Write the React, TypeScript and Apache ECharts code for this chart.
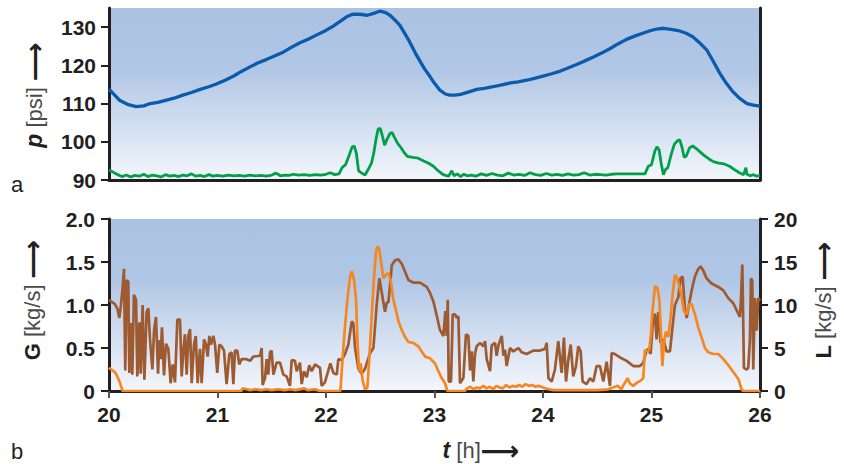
import React, { useEffect, useRef } from "react";
import * as echarts from "echarts";

// ---------- data ----------
const pTime = [20.0, 20.05, 20.1, 20.17, 20.25, 20.32, 20.38, 20.45, 20.53, 20.6, 20.68, 20.76, 20.84, 20.92, 20.99, 21.07, 21.15, 21.22, 21.3, 21.37, 21.45, 21.53, 21.61, 21.68, 21.76, 21.84, 21.91, 21.99, 22.07, 22.13, 22.19, 22.24, 22.28, 22.33, 22.38, 22.44, 22.5, 22.55, 22.59, 22.63, 22.68, 22.72, 22.77, 22.82, 22.87, 22.91, 22.96, 23.0, 23.05, 23.1, 23.14, 23.19, 23.24, 23.31, 23.39, 23.46, 23.54, 23.62, 23.7, 23.77, 23.85, 23.92, 24.0, 24.08, 24.16, 24.23, 24.31, 24.38, 24.46, 24.54, 24.62, 24.69, 24.77, 24.85, 24.92, 24.98, 25.05, 25.11, 25.18, 25.26, 25.32, 25.38, 25.44, 25.51, 25.57, 25.63, 25.69, 25.75, 25.81, 25.88, 25.94, 26.0];
const pValues = [113.8, 112.3, 110.8, 109.8, 109.2, 109.4, 110.0, 110.3, 110.9, 111.4, 112.2, 112.9, 113.7, 114.4, 115.1, 116.1, 117.2, 118.4, 119.6, 120.6, 121.5, 122.5, 123.5, 124.7, 125.9, 126.9, 127.9, 129.0, 130.3, 131.5, 132.7, 133.3, 133.4, 133.3, 133.1, 133.6, 134.2, 133.8, 133.1, 132.0, 130.5, 128.6, 126.2, 123.4, 120.9, 119.0, 117.0, 115.3, 113.5, 112.5, 112.2, 112.2, 112.4, 113.0, 113.7, 114.0, 114.4, 114.9, 115.4, 115.7, 116.1, 116.6, 117.2, 117.8, 118.5, 119.3, 120.2, 121.1, 122.1, 123.2, 124.4, 125.6, 126.8, 127.7, 128.4, 129.0, 129.5, 129.7, 129.4, 129.0, 128.4, 127.5, 126.0, 124.0, 121.0, 117.9, 115.3, 113.1, 111.4, 110.0, 109.6, 109.3];

const greenTime = [20.0, 20.04, 20.08, 20.12, 20.16, 20.2, 20.24, 20.28, 20.32, 20.36, 20.4, 20.44, 20.48, 20.52, 20.56, 20.6, 20.64, 20.68, 20.72, 20.76, 20.8, 20.84, 20.88, 20.92, 20.96, 21.0, 21.05, 21.1, 21.15, 21.2, 21.25, 21.3, 21.35, 21.4, 21.45, 21.5, 21.54, 21.58, 21.62, 21.66, 21.7, 21.75, 21.8, 21.85, 21.9, 21.95, 22.0, 22.04, 22.08, 22.12, 22.15, 22.18, 22.21, 22.24, 22.26, 22.28, 22.3, 22.33, 22.36, 22.39, 22.42, 22.44, 22.46, 22.48, 22.5, 22.52, 22.54, 22.56, 22.59, 22.61, 22.63, 22.66, 22.69, 22.72, 22.75, 22.8, 22.85, 22.9, 22.95, 22.99, 23.03, 23.07, 23.1, 23.13, 23.16, 23.18, 23.21, 23.24, 23.27, 23.3, 23.34, 23.38, 23.43, 23.48, 23.53, 23.58, 23.63, 23.68, 23.73, 23.78, 23.83, 23.88, 23.93, 23.98, 24.03, 24.08, 24.13, 24.18, 24.23, 24.28, 24.33, 24.38, 24.43, 24.48, 24.53, 24.58, 24.63, 24.68, 24.73, 24.78, 24.83, 24.88, 24.94, 24.97, 25.0, 25.03, 25.05, 25.07, 25.09, 25.11, 25.13, 25.15, 25.18, 25.21, 25.24, 25.26, 25.28, 25.3, 25.32, 25.35, 25.38, 25.41, 25.45, 25.49, 25.53, 25.57, 25.62, 25.67, 25.72, 25.77, 25.81, 25.85, 25.87, 25.88, 25.91, 25.94, 25.97, 26.0];
const greenValues = [92.6, 92.0, 91.4, 90.9, 91.3, 90.8, 91.2, 91.0, 91.5, 90.9, 91.3, 91.1, 90.8, 91.4, 91.0, 91.2, 90.9, 91.3, 91.1, 91.6, 91.0, 91.2, 90.9, 91.4, 91.0, 91.2, 91.0, 91.3, 91.1, 91.2, 91.0, 91.3, 91.1, 91.2, 91.0, 91.3, 91.8, 91.1, 91.3, 91.2, 91.5, 91.3, 91.4, 91.2, 91.4, 91.3, 91.5, 91.9, 91.4, 91.6, 93.3, 94.0, 96.2, 98.6, 98.9, 97.0, 92.4, 91.8, 91.3, 92.8, 94.5, 97.0, 100.5, 103.3, 103.5, 101.5, 99.1, 100.5, 102.2, 102.4, 101.2, 99.6, 98.5, 97.2, 96.2, 95.9, 95.7, 95.0, 94.3, 93.6, 92.5, 91.6, 91.2, 91.0, 92.4, 91.1, 91.6, 90.9, 91.5, 91.1, 91.3, 91.0, 91.6, 91.2, 91.7, 91.3, 91.1, 91.8, 91.3, 91.5, 91.2, 91.9, 91.4, 91.2, 91.7, 91.3, 91.5, 91.2, 91.6, 91.3, 91.4, 91.9, 91.3, 91.5, 91.4, 91.3, 91.5, 91.6, 91.6, 91.6, 91.6, 91.6, 91.6, 93.6, 94.0, 97.5, 98.7, 97.9, 94.2, 91.4, 92.8, 93.2, 96.5, 99.3, 100.3, 100.5, 98.7, 96.0, 96.2, 98.4, 98.9, 98.3, 97.3, 96.3, 95.5, 94.8, 94.4, 94.2, 93.6, 92.6, 91.9, 91.4, 93.2, 91.5, 91.1, 91.4, 91.0, 91.2];

const gTime = [20.0, 20.01, 20.055, 20.08, 20.095, 20.11, 20.126, 20.138, 20.15, 20.163, 20.178, 20.187, 20.2, 20.215, 20.23, 20.249, 20.261, 20.28, 20.292, 20.31, 20.326, 20.347, 20.363, 20.378, 20.4, 20.415, 20.433, 20.452, 20.464, 20.476, 20.488, 20.507, 20.525, 20.547, 20.568, 20.587, 20.608, 20.63, 20.654, 20.67, 20.685, 20.7, 20.716, 20.731, 20.747, 20.762, 20.783, 20.8, 20.817, 20.839, 20.854, 20.876, 20.894, 20.909, 20.925, 20.94, 20.962, 20.977, 20.998, 21.017, 21.038, 21.06, 21.084, 21.109, 21.13, 21.146, 21.161, 21.183, 21.2, 21.223, 21.269, 21.3, 21.33, 21.392, 21.407, 21.416, 21.438, 21.453, 21.468, 21.484, 21.499, 21.515, 21.545, 21.576, 21.607, 21.637, 21.668, 21.684, 21.714, 21.73, 21.76, 21.776, 21.797, 21.822, 21.846, 21.868, 21.899, 21.945, 21.96, 21.99, 22.04, 22.068, 22.099, 22.114, 22.145, 22.175, 22.206, 22.237, 22.252, 22.268, 22.298, 22.329, 22.36, 22.406, 22.437, 22.467, 22.492, 22.529, 22.544, 22.56, 22.575, 22.59, 22.606, 22.636, 22.667, 22.698, 22.728, 22.759, 22.805, 22.867, 22.928, 22.959, 22.99, 23.02, 23.05, 23.082, 23.1, 23.113, 23.122, 23.131, 23.152, 23.168, 23.19, 23.205, 23.22, 23.235, 23.266, 23.29, 23.312, 23.328, 23.343, 23.358, 23.374, 23.389, 23.42, 23.45, 23.466, 23.481, 23.512, 23.527, 23.558, 23.573, 23.589, 23.62, 23.635, 23.65, 23.665, 23.696, 23.727, 23.773, 23.804, 23.85, 23.91, 23.973, 24.019, 24.034, 24.05, 24.08, 24.11, 24.141, 24.172, 24.193, 24.212, 24.233, 24.255, 24.279, 24.304, 24.325, 24.347, 24.365, 24.402, 24.433, 24.464, 24.494, 24.525, 24.556, 24.586, 24.617, 24.633, 24.663, 24.71, 24.771, 24.832, 24.894, 24.924, 24.949, 24.97, 24.992, 25.01, 25.032, 25.047, 25.063, 25.084, 25.109, 25.124, 25.139, 25.17, 25.195, 25.216, 25.247, 25.268, 25.287, 25.308, 25.324, 25.339, 25.37, 25.4, 25.431, 25.453, 25.477, 25.508, 25.554, 25.616, 25.662, 25.708, 25.754, 25.8, 25.815, 25.825, 25.837, 25.852, 25.877, 25.892, 25.907, 25.917, 25.929, 25.938, 25.953, 25.969, 25.984, 26.0];
const gValues = [1.06, 1.05, 1.01, 0.95, 0.85, 1.0, 1.21, 1.42, 0.24, 1.29, 1.27, 0.21, 0.79, 0.19, 1.12, 1.06, 0.17, 0.8, 0.2, 1.0, 0.13, 0.92, 0.96, 0.6, 0.25, 0.7, 0.86, 0.2, 0.59, 0.37, 0.74, 0.18, 0.55, 0.49, 0.09, 0.31, 0.1, 0.83, 0.83, 0.17, 0.47, 0.66, 0.19, 0.64, 0.72, 0.09, 0.54, 0.64, 0.09, 0.49, 0.09, 0.6, 0.54, 0.4, 0.64, 0.54, 0.64, 0.54, 0.21, 0.54, 0.52, 0.47, 0.08, 0.43, 0.45, 0.08, 0.47, 0.47, 0.31, 0.37, 0.37, 0.35, 0.4, 0.41, 0.5, 0.07, 0.15, 0.37, 0.19, 0.45, 0.47, 0.19, 0.33, 0.33, 0.19, 0.17, 0.06, 0.36, 0.35, 0.23, 0.33, 0.08, 0.23, 0.16, 0.3, 0.23, 0.31, 0.27, 0.06, 0.1, 0.32, 0.21, 0.19, 0.37, 0.36, 0.43, 0.54, 0.81, 0.79, 0.5, 0.26, 0.2, 0.26, 0.44, 0.5, 1.0, 1.31, 1.03, 0.92, 1.03, 1.03, 1.22, 1.46, 1.52, 1.53, 1.48, 1.39, 1.29, 1.26, 1.26, 1.21, 1.14, 1.04, 0.88, 0.71, 0.64, 0.93, 0.64, 1.06, 0.11, 0.11, 0.89, 0.89, 0.85, 0.87, 0.09, 0.15, 0.66, 0.64, 0.24, 0.46, 0.11, 0.44, 0.52, 0.56, 0.52, 0.58, 0.37, 0.23, 0.53, 0.56, 0.41, 0.53, 0.64, 0.41, 0.48, 0.29, 0.5, 0.46, 0.5, 0.45, 0.43, 0.47, 0.47, 0.49, 0.56, 0.15, 0.11, 0.25, 0.58, 0.21, 0.62, 0.11, 0.36, 0.54, 0.17, 0.29, 0.52, 0.46, 0.11, 0.08, 0.15, 0.11, 0.29, 0.29, 0.11, 0.34, 0.06, 0.44, 0.43, 0.39, 0.35, 0.29, 0.29, 0.33, 0.45, 0.49, 0.43, 0.76, 0.9, 0.6, 0.92, 0.56, 0.6, 0.53, 0.46, 0.46, 0.76, 1.0, 1.09, 1.31, 1.33, 0.96, 0.85, 0.96, 1.17, 1.33, 1.42, 1.45, 1.4, 1.31, 1.25, 1.21, 1.17, 1.08, 1.02, 0.9, 0.86, 1.08, 1.47, 0.27, 0.25, 0.27, 0.6, 1.31, 1.28, 0.25, 1.08, 0.7, 1.08, 1.05];

const lTime = [20.0, 20.01, 20.055, 20.08, 20.1, 20.11, 20.126, 21.22, 21.23, 21.27, 21.3, 21.35, 21.4, 21.45, 21.5, 21.56, 21.62, 21.67, 21.72, 21.8, 21.83, 21.9, 21.94, 22.13, 22.135, 22.154, 22.175, 22.197, 22.222, 22.237, 22.259, 22.277, 22.29, 22.305, 22.32, 22.338, 22.36, 22.381, 22.4, 22.421, 22.443, 22.461, 22.476, 22.492, 22.513, 22.529, 22.55, 22.575, 22.596, 22.621, 22.645, 22.667, 22.698, 22.728, 22.759, 22.805, 22.851, 22.882, 22.913, 22.959, 23.005, 23.036, 23.066, 23.097, 23.119, 23.28, 23.3, 23.33, 23.36, 23.39, 23.42, 23.45, 23.48, 23.51, 23.54, 23.57, 23.6, 23.63, 23.66, 23.69, 23.72, 23.75, 23.78, 23.81, 23.84, 23.87, 23.9, 23.93, 23.96, 24.0, 24.05, 24.1, 24.2, 24.3, 24.4, 24.5, 24.6, 24.69, 24.72, 24.78, 24.8, 24.83, 24.87, 24.9, 24.924, 24.94, 24.96, 24.98, 24.995, 25.01, 25.032, 25.054, 25.072, 25.084, 25.1, 25.115, 25.133, 25.155, 25.176, 25.195, 25.216, 25.238, 25.256, 25.277, 25.299, 25.324, 25.345, 25.37, 25.4, 25.431, 25.462, 25.493, 25.524, 25.57, 25.616, 25.662, 25.708, 25.754, 25.8, 25.83, 25.846, 26.0];
const lValues = [2.7, 2.6, 2.2, 1.6, 1.0, 0.6, 0.0, 0.0, 0.3, 0.2, 0.1, 0.2, 0.1, 0.2, 0.1, 0.2, 0.1, 0.2, 0.1, 0.3, 0.1, 0.2, 0.0, 0.0, 0.4, 4.0, 7.5, 10.6, 13.3, 13.9, 12.9, 10.6, 5.9, 2.3, 3.2, 1.2, 0.2, 0.4, 4.0, 8.6, 13.3, 16.2, 16.8, 16.4, 14.5, 13.1, 13.5, 13.7, 12.9, 10.6, 9.4, 8.1, 7.1, 6.3, 5.7, 5.6, 5.2, 4.6, 4.0, 3.8, 3.2, 2.3, 1.5, 0.9, 0.0, 0.0, 0.3, 0.5, 0.2, 0.4, 0.3, 0.6, 0.3, 0.5, 0.2, 0.6, 0.4, 0.3, 0.7, 0.4, 0.6, 0.5, 0.7, 0.5, 0.8, 0.6, 0.7, 0.5, 0.6, 0.4, 0.2, 0.1, 0.1, 0.1, 0.1, 0.1, 0.2, 0.6, 0.2, 1.5, 0.9, 0.6, 1.0, 1.2, 1.5, 4.8, 4.6, 4.8, 6.7, 9.4, 12.2, 12.0, 10.6, 7.6, 2.9, 5.6, 6.9, 6.3, 8.6, 11.3, 13.5, 13.1, 12.2, 11.0, 9.3, 8.9, 10.1, 10.1, 8.9, 7.4, 6.2, 5.0, 4.5, 4.3, 4.3, 3.7, 3.0, 2.2, 1.4, 0.2, 0.0, 0.0];

const pTicks = [90, 100, 110, 120, 130];
const tTicks = [20, 21, 22, 23, 24, 25, 26];

// ---------- chart ----------
const DARK = "#231f20";
const FONT = "'Liberation Sans', Arial, Helvetica, sans-serif";

const zip = (a: number[], b: number[]) => a.map((x, i) => [x, b[i]]);

const bg = () => ({
  type: "linear",
  x: 0,
  y: 0,
  x2: 0,
  y2: 1,
  colorStops: [
    { offset: 0, color: "#abc2e3" },
    { offset: 0.35, color: "#b0c6e5" },
    { offset: 1, color: "#f3f6fb" },
  ],
});

const labelStyle = {
  fontSize: 21,
  fontWeight: "bold",
  color: DARK,
  fontFamily: FONT,
};

export default function App() {
  const ref = useRef<HTMLDivElement>(null);

  useEffect(() => {
    if (!ref.current) return;
    document.body.style.margin = "0";
    const chart = echarts.init(ref.current, undefined, { renderer: "svg" });

    const axisLine = { show: true, onZero: false, lineStyle: { color: DARK, width: 3 } };
    const tick = { show: true, length: 8, lineStyle: { color: DARK, width: 2 } };

    const rich = {
      v: { fontSize: 23, fontWeight: "bold", fontStyle: "italic", fill: DARK, fontFamily: FONT, lineHeight: 24 },
      b: { fontSize: 22, fontWeight: "bold", fill: DARK, fontFamily: FONT, lineHeight: 24 },
      u: { fontSize: 22, fontWeight: "normal", fill: "#4a4a4a", fontFamily: FONT, lineHeight: 24 },
      a: { fontSize: 27, fontWeight: "bold", fill: DARK, fontFamily: "'DejaVu Sans', sans-serif", lineHeight: 24 },
    };

    chart.setOption({
      animation: false,
      grid: [
        { left: 109, right: 84, top: 8, height: 172, show: true, borderWidth: 0, backgroundColor: bg() },
        { left: 109, right: 84, top: 219, height: 172, show: true, borderWidth: 0, backgroundColor: bg() },
      ],
      xAxis: [
        {
          gridIndex: 0, type: "value", min: 20, max: 26, interval: 1,
          axisLine, axisTick: { show: false }, axisLabel: { show: false }, splitLine: { show: false },
        },
        {
          gridIndex: 1, type: "value", min: 20, max: 26, interval: 1,
          axisLine, axisTick: { ...tick, length: 7, lineStyle: { color: "#555", width: 2 } },
          axisLabel: { ...labelStyle, margin: 13, customValues: tTicks },
          splitLine: { show: false },
        },
      ],
      yAxis: [
        {
          gridIndex: 0, type: "value", min: 90, max: 135, position: "left",
          axisLine, axisTick: { ...tick, customValues: pTicks },
          axisLabel: { ...labelStyle, margin: 13, customValues: pTicks },
          splitLine: { show: false },
        },
        {
          gridIndex: 0, type: "value", min: 90, max: 135, position: "right",
          axisLine, axisTick: { show: false }, axisLabel: { show: false }, splitLine: { show: false },
        },
        {
          gridIndex: 1, type: "value", min: 0, max: 2, interval: 0.5, position: "left",
          axisLine, axisTick: tick,
          axisLabel: { ...labelStyle, margin: 14, formatter: (v: number) => (v === 0 ? "0" : v.toFixed(1)) },
          splitLine: { show: false },
        },
        {
          gridIndex: 1, type: "value", min: 0, max: 20, interval: 5, position: "right",
          axisLine, axisTick: tick,
          axisLabel: { ...labelStyle, margin: 14 },
          splitLine: { show: false },
        },
      ],
      series: [
        {
          type: "line", xAxisIndex: 0, yAxisIndex: 0, data: zip(pTime, pValues),
          showSymbol: false, symbol: "none", lineStyle: { color: "#0a5bab", width: 3.3 }, clip: true,
        },
        {
          type: "line", xAxisIndex: 0, yAxisIndex: 0, data: zip(greenTime, greenValues),
          showSymbol: false, symbol: "none", lineStyle: { color: "#00a04a", width: 2.8 }, clip: true,
        },
        {
          type: "line", xAxisIndex: 1, yAxisIndex: 2, data: zip(gTime, gValues),
          showSymbol: false, symbol: "none", lineStyle: { color: "#9e5a30", width: 2.7 }, clip: true,
        },
        {
          type: "line", xAxisIndex: 1, yAxisIndex: 3, data: zip(lTime, lValues),
          showSymbol: false, symbol: "none", lineStyle: { color: "#f68620", width: 2.7 }, clip: true,
        },
      ],
      graphic: [
        {
          type: "text", x: 11, y: 184,
          style: { text: "a", fontSize: 22, fill: DARK, fontFamily: FONT, align: "left", verticalAlign: "middle" },
        },
        {
          type: "text", x: 11, y: 451,
          style: { text: "b", fontSize: 22, lineHeight: 22, fill: DARK, fontFamily: FONT, align: "left", verticalAlign: "middle" },
        },
        {
          type: "text", x: 34, y: 95, rotation: Math.PI / 2,
          style: { text: "{v|p}{u| [psi] }{a|⟶}", rich, align: "center", verticalAlign: "middle" },
        },
        {
          type: "text", x: 32, y: 300, rotation: Math.PI / 2,
          style: { text: "{b|G}{u| [kg/s] }{a|⟶}", rich, align: "center", verticalAlign: "middle" },
        },
        {
          type: "text", x: 823, y: 300, rotation: Math.PI / 2,
          style: { text: "{b|L}{u| [kg/s] }{a|⟶}", rich, align: "center", verticalAlign: "middle" },
        },
        {
          type: "text", x: 481, y: 450,
          style: { text: "{v|t}{u| [h]}{a|⟶}", rich, align: "center", verticalAlign: "middle" },
        },
      ],
    });

    return () => chart.dispose();
  }, []);

  return <div ref={ref} style={{ width: 844, height: 464 }} />;
}
